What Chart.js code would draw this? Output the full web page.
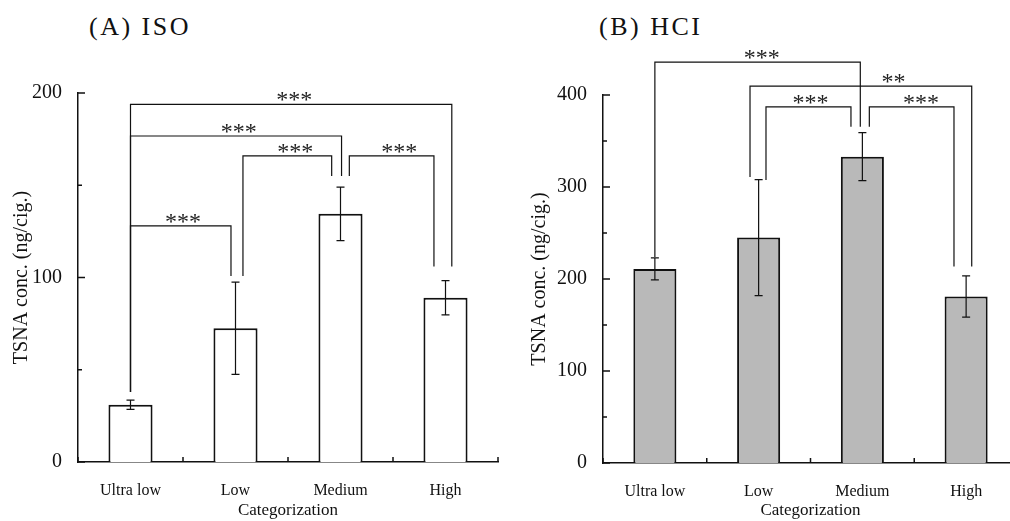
<!DOCTYPE html>
<html>
<head>
<meta charset="utf-8">
<script src="https://cdn.jsdelivr.net/npm/chart.js@4/dist/chart.umd.min.js"></script>
<style>
  html, body { margin: 0; padding: 0; background: #fff; overflow: hidden; width: 1010px; height: 521px; }
  canvas { position: absolute; top: 0; }
  .ttl { position: absolute; top: 11px; font: 26px "Liberation Serif", "Times New Roman", serif; letter-spacing: 2.5px; line-height: 32px; color: #111; }
</style>
</head>
<body>
<div class="ttl" style="left:89px">(A) ISO</div>
<div class="ttl" style="left:599px">(B) HCI</div>
<canvas id="iso" width="505" height="521" style="left:0"></canvas>
<canvas id="hci" width="520" height="521" style="left:505px"></canvas>
<script>
const SERIF = '"Liberation Serif", "Times New Roman", serif';

const categories = ['Ultra low', 'Low', 'Medium', 'High'];

// (A) ISO, ng/cig.
const isoMeans = [31, 72.5, 134.5, 89];
const isoErrors = [2.5, 25, 14.5, 9.3];
const isoTicks = [0, 100, 200];
const isoMinorTicks = [50, 150];

// (B) HCI, ng/cig.
const hciMeans = [211, 245, 333, 181];
const hciErrors = [12, 63, 26, 22.5];
const hciTicks = [0, 100, 200, 300, 400];
const hciMinorTicks = [50, 150, 250, 350];

// significance brackets: category index (may be fractional) and values in ng/cig.
const isoBrackets = [
  { from: 0, to: 3.06, level: 193.8, fromEnd: 38, toEnd: 106, label: '***', labelAt: 1.56 },
  { from: 0, to: 2.01, level: 176.7, fromEnd: 38, toEnd: 155, label: '***', labelAt: 1.03 },
  { from: 0, to: 0.957, level: 128, fromEnd: 38, toEnd: 100.8, label: '***', labelAt: 0.5 },
  { from: 1.071, to: 1.916, level: 165.9, fromEnd: 100.8, toEnd: 155, label: '***', labelAt: 1.57 },
  { from: 2.084, to: 2.89, level: 165.9, fromEnd: 155, toEnd: 106, label: '***', labelAt: 2.56 }
];
const hciBrackets = [
  { from: 0, to: 1.98, level: 435.7, fromEnd: 224, toEnd: 365.5, label: '***', labelAt: 1.03 },
  { from: 0.917, to: 3.054, level: 409.6, fromEnd: 311, toEnd: 213.5, label: '**', labelAt: 2.3 },
  { from: 1.071, to: 1.89, level: 387, fromEnd: 307.6, toEnd: 365.5, label: '***', labelAt: 1.5 },
  { from: 2.067, to: 2.883, level: 387, fromEnd: 365.5, toEnd: 213.5, label: '***', labelAt: 2.565 }
];

// error bars, inward ticks and brackets
const decorations = {
  id: 'decorations',
  afterDatasetsDraw(chart, args, opts) {
    const ctx = chart.ctx;
    const x = chart.scales.x, y = chart.scales.y;
    const area = chart.chartArea;
    ctx.save();
    ctx.strokeStyle = '#111';
    ctx.lineWidth = 1.2;

    // error bars
    const bars = chart.getDatasetMeta(0).data;
    bars.forEach((bar, i) => {
      const m = opts.means[i], e = opts.errors[i];
      const yt = y.getPixelForValue(m + e), yb = y.getPixelForValue(m - e);
      ctx.beginPath();
      ctx.moveTo(bar.x, yt); ctx.lineTo(bar.x, yb);
      ctx.moveTo(bar.x - 4, yt); ctx.lineTo(bar.x + 4, yt);
      ctx.moveTo(bar.x - 4, yb); ctx.lineTo(bar.x + 4, yb);
      ctx.stroke();
    });

    // y ticks (inward)
    ctx.lineWidth = 1.5;
    ctx.beginPath();
    opts.ticks.forEach(v => { const p = y.getPixelForValue(v); ctx.moveTo(area.left, p); ctx.lineTo(area.left + 7, p); });
    opts.minor.forEach(v => { const p = y.getPixelForValue(v); ctx.moveTo(area.left, p); ctx.lineTo(area.left + 4, p); });
    // x ticks at category boundaries
    for (let i = 0; i <= categories.length; i++) {
      const p = x.getPixelForValue(i - 0.5);
      ctx.moveTo(p, area.bottom); ctx.lineTo(p, area.bottom - 5);
    }
    ctx.stroke();

    // brackets
    ctx.lineWidth = 1.2;
    ctx.fillStyle = '#222';
    ctx.font = '24px ' + SERIF;
    ctx.textAlign = 'center';
    ctx.textBaseline = 'alphabetic';
    opts.brackets.forEach(b => {
      const x1 = x.getPixelForValue(b.from), x2 = x.getPixelForValue(b.to);
      const yl = y.getPixelForValue(b.level);
      ctx.beginPath();
      ctx.moveTo(x1, y.getPixelForValue(b.fromEnd));
      ctx.lineTo(x1, yl);
      ctx.lineTo(x2, yl);
      ctx.lineTo(x2, y.getPixelForValue(b.toEnd));
      ctx.stroke();
      ctx.fillText(b.label, x.getPixelForValue(b.labelAt), yl + 3);
    });
    ctx.restore();
  }
};

function makeChart(id, means, errors, ticks, minor, brackets, fill, catPct, yWidth, layout, yTitlePad) {
  return new Chart(document.getElementById(id), {
    type: 'bar',
    data: {
      labels: categories,
      datasets: [{
        data: means,
        backgroundColor: fill,
        borderColor: '#111',
        borderWidth: 2,
        barPercentage: 1,
        categoryPercentage: catPct
      }]
    },
    options: {
      responsive: false,
      animation: false,
      layout: { padding: layout },
      plugins: {
        legend: { display: false },
        tooltip: { enabled: false },
        decorations: { means, errors, ticks, minor, brackets }
      },
      scales: {
        x: {
          grid: { display: false, drawTicks: false },
          border: { display: true, color: '#111', width: 1.5 },
          ticks: { color: '#111', font: { family: SERIF, size: 16 }, padding: 19, maxRotation: 0 },
          title: { display: true, text: 'Categorization', color: '#111', font: { family: SERIF, size: 17 }, padding: { top: 0, bottom: 0 } },
          afterFit(s) { s.height = 521 - layout.top - (layout.chartHeight); }
        },
        y: {
          min: 0,
          max: ticks[ticks.length - 1],
          afterBuildTicks(s) { s.ticks = ticks.map(v => ({ value: v })); },
          grid: { display: false, drawTicks: false },
          border: { display: true, color: '#111', width: 1.5 },
          ticks: { color: '#111', font: { family: SERIF, size: 20 }, padding: 16 },
          title: { display: true, text: 'TSNA conc. (ng/cig.)', color: '#111', font: { family: SERIF, size: 20 }, padding: { top: yTitlePad, bottom: 0 } },
          afterFit(s) { s.width = yWidth; }
        }
      }
    },
    plugins: [decorations]
  });
}

makeChart('iso', isoMeans, isoErrors, isoTicks, isoMinorTicks, isoBrackets, '#ffffff', 0.42, 78,
  { top: 93, left: 0, right: 7, bottom: 0, chartHeight: 369 }, 10);
makeChart('hci', hciMeans, hciErrors, hciTicks, hciMinorTicks, hciBrackets, '#b9b9b9', 0.415, 98,
  { top: 95, left: 0, right: 7, bottom: 0, chartHeight: 368 }, 23);
</script>
</body>
</html>
